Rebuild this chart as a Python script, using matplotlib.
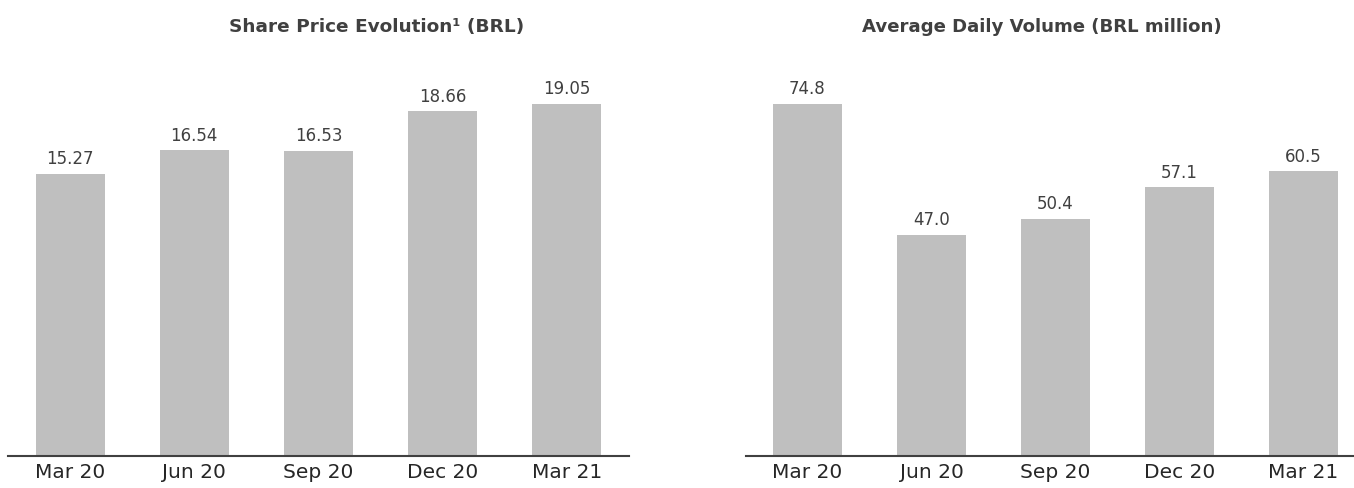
import matplotlib.pyplot as plt

# data
quarters = ["Mar 20", "Jun 20", "Sep 20", "Dec 20", "Mar 21"]
share_price = [15.27, 16.54, 16.53, 18.66, 19.05]
daily_volume = [74.8, 47.0, 50.4, 57.1, 60.5]
price_labels = ["15.27", "16.54", "16.53", "18.66", "19.05"]
volume_labels = ["74.8", "47.0", "50.4", "57.1", "60.5"]

plt.rcParams['font.family'] = ['DejaVu Sans']

W, H = 1354, 488
fig = plt.figure(figsize=(W / 100, H / 100), dpi=100)

bar_color = '#bfbfbf'
text_color = '#404040'


def draw_panel(left_px, right_px, values, labels):
    base_px, top_px = 456, 60
    ax = fig.add_axes([left_px / W, (H - base_px) / H,
                       (right_px - left_px) / W, (base_px - top_px) / H])
    x = range(len(quarters))
    ax.bar(x, values, width=0.556, color=bar_color)
    ax.set_xlim(-0.5, len(quarters) - 0.5)
    ax.set_ylim(0, max(values) * (base_px - top_px) / (base_px - 104))
    for xi, v, lab in zip(x, values, labels):
        ax.annotate(lab, (xi, v), xytext=(0, 4), textcoords='offset points',
                    ha='center', va='bottom', fontsize=12, color=text_color)
    ax.set_xticks(list(x))
    ax.set_xticklabels(quarters, fontsize=14.5, color='#262626')
    ax.tick_params(axis='x', length=0, pad=5)
    ax.set_yticks([])
    for s in ['top', 'right', 'left']:
        ax.spines[s].set_visible(False)
    ax.spines['bottom'].set_color('#404040')
    ax.spines['bottom'].set_linewidth(1.5)
    return ax


draw_panel(8, 629, share_price, price_labels)
draw_panel(745.5, 1365.5, daily_volume, volume_labels)

fig.text(377 / W, 1 - 27 / H, "Share Price Evolution\u00b9 (BRL)", ha='center', va='center',
         fontsize=13.3, fontweight='bold', color=text_color)
fig.text(1042 / W, 1 - 27 / H, "Average Daily Volume (BRL million)", ha='center', va='center',
         fontsize=13.1, fontweight='bold', color=text_color)

fig.savefig("out.png", dpi=100)
